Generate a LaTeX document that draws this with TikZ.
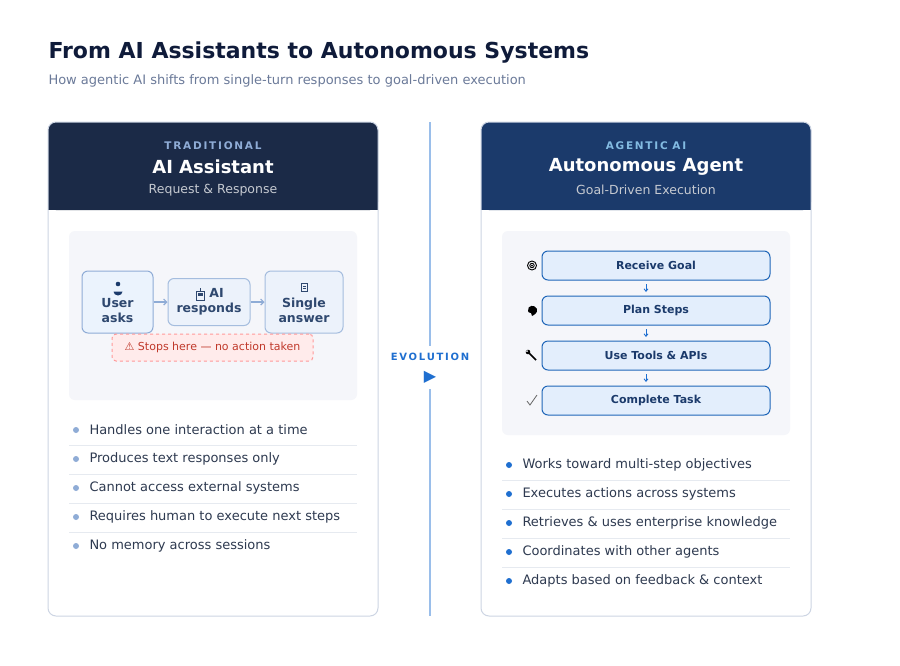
\documentclass[tikz,border=0pt]{standalone}
\usepackage{fontspec}
\setmainfont{DejaVu Sans}
\usetikzlibrary{arrows.meta,calc}
\definecolor{navy}{HTML}{0F1B3A}
\definecolor{sub}{HTML}{6B7A99}
\definecolor{cardline}{HTML}{CDD5E3}
\definecolor{hdrL}{HTML}{1B2A47}
\definecolor{hdrR}{HTML}{1B3A6B}
\definecolor{panel}{HTML}{F5F6FA}
\definecolor{txt}{HTML}{2E3A50}
\definecolor{boxb}{HTML}{1F66B8}
\definecolor{boxf}{HTML}{E3EEFC}
\definecolor{lb}{HTML}{8FACD6}
\definecolor{sep}{HTML}{E6EAF0}
\definecolor{redt}{HTML}{C0392B}
\definecolor{blue}{HTML}{1F6FD0}
\begin{document}
\begin{tikzpicture}[x=1pt,y=-1pt,line width=1pt,
  every node/.style={inner sep=0pt},
  stepbox/.style={draw=boxb,fill=boxf,rounded corners=6,minimum width=228,minimum height=29,font=\fontsize{11}{13}\selectfont\bfseries,text=hdrR},
  fb/.style={rounded corners=6,align=center,font=\fontsize{12.5}{15}\selectfont\bfseries,text=hdrR!80!gray},
  bl/.style={anchor=west,font=\fontsize{13}{15}\selectfont,text=txt},
  hd1/.style={font=\fontsize{10.5}{12}\selectfont\bfseries},
  hd2/.style={font=\fontsize{18}{21}\selectfont\bfseries,text=white},
  hd3/.style={font=\fontsize{12.5}{15}\selectfont,text=white!75!hdrL}]
\useasboundingbox (0,0) rectangle (900,665);
\fill[white] (0,0) rectangle (900,665);
\node[anchor=west,font=\fontsize{22}{26}\selectfont\bfseries,text=navy] (title) at (48,53) {From AI Assistants to Autonomous Systems};
\node[anchor=west,font=\fontsize{13}{15}\selectfont,text=sub] (subt) at (48,81) {How agentic AI shifts from single-turn responses to goal-driven execution};
% left card
\fill[hdrL,rounded corners=8] (48,122) rectangle (378,210);
\fill[hdrL] (48,180) rectangle (378,210);
\draw[cardline,rounded corners=8] (48,122) rectangle (378,616);
\node[hd1,text=lb] (lt) at (213,146) {T\,R\,A\,D\,I\,T\,I\,O\,N\,A\,L};
\node[hd2] (lh) at (213,167) {AI Assistant};
\node[hd3] (ls) at (213,190) {Request \& Response};
\fill[panel,rounded corners=6] (69,231) rectangle (357,400);
\node[fb,draw=lb,fill=boxf!70!white,minimum width=71,minimum height=62] (u) at (117.5,302) {\strut\\User\\asks};
\node[fb,draw=lb!80!white,fill=panel!50!boxf,minimum width=82,minimum height=47] (ai) at (209,302) {\hspace{15pt}AI\\responds};
\node[fb,draw=lb!80!white,fill=panel!50!boxf,minimum width=78,minimum height=62] (sa) at (304,302) {\strut\\Single\\answer};
% person icon
\fill[hdrR] (118,284) circle (2.3);
\fill[hdrR] (113.5,291.5) arc (180:0:4.5 and 4) -- cycle;
% robot icon
\draw[hdrR!80!gray,line width=0.8] (196,291) rectangle (204,300); \fill[hdrR!80!gray] (197.5,293) rectangle (202.5,296);
\draw[hdrR!80!gray,line width=0.8] (200,291) -- (200,288);
% doc icon
\draw[hdrR!80!gray,line width=0.8] (301.5,283) rectangle (307,291.5);
\draw[hdrR!80!gray,line width=0.5] (302.8,286) -- (305.7,286) (302.8,288) -- (305.7,288);
\draw[lb,line width=1.2,-{Straight Barb[length=3pt,width=6pt]}] (u) -- (ai);
\draw[lb,line width=1.2,-{Straight Barb[length=3pt,width=6pt]}] (ai) -- (sa);
\node[draw=red!40,dashed,fill=red!8,rounded corners=4,minimum width=201,minimum height=27,text=redt,font=\fontsize{11}{13}\selectfont] (stop) at (212.5,347.5) {⚠ Stops here — no action taken};
\foreach \t [count=\i] in {Handles one interaction at a time,Produces text responses only,Cannot access external systems,Requires human to execute next steps,No memory across sessions}{
  \node[circle,fill=lb,minimum size=6] (lb\i) at (76,{401+29*\i}) {};
  \node[bl] (lt\i) at (89,{401+29*\i}) {\t};
}
\foreach \y in {445,474,503,532} \draw[sep] (69,\y) -- (357,\y);
% divider
\draw[blue!45,line width=1.5] (430,122) -- (430,346);
\draw[blue!45,line width=1.5] (430,389) -- (430,616);
\node[font=\fontsize{10}{12}\selectfont\bfseries,text=blue] (ev) at (430,357) {E\,V\,O\,L\,U\,T\,I\,O\,N};
\node[font=\fontsize{16}{18}\selectfont,text=blue] (tri) at (430,377) {▶};
% right card
\fill[hdrR,rounded corners=8] (481,122) rectangle (811,210);
\fill[hdrR] (481,180) rectangle (811,210);
\draw[cardline,rounded corners=8] (481,122) rectangle (811,616);
\node[hd1,text=cyan!50!blue!55!white] (rt) at (646,146) {A\,G\,E\,N\,T\,I\,C\;\,A\,I};
\node[hd2] (rh) at (646,167) {Autonomous Agent};
\node[hd3] (rs) at (646,190) {Goal-Driven Execution};
\fill[panel,rounded corners=6] (502,231) rectangle (790,435);
\node[stepbox] (s1) at (656,265.5) {Receive Goal};
\node[stepbox] (s2) at (656,310.5) {Plan Steps};
\node[stepbox] (s3) at (656,355.5) {Use Tools \& APIs};
\node[stepbox] (s4) at (656,400.5) {Complete Task};
% icons
\draw[black,line width=0.9] (532,265.5) circle (4.5) (532,265.5) circle (2.2);
\fill[black] (532,265.5) circle (1);
\fill[black] (528,311) .. controls (527,305) and (535,304) .. (537,309) .. controls (538,313) and (534,315) .. (532,316) -- (531,313) .. controls (529,313) and (528,312) .. (528,311);
\draw[black,line width=1.6] (528,352) -- (536,360);
\fill[black] (528,352) circle (2.3); \fill[panel] (527,351) circle (1);
\draw[black!60,line width=0.8] (527,401) -- (530,405) -- (537,395);
\foreach \a/\b in {s1/s2,s2/s3,s3/s4}
  \draw[blue,line width=0.9,-{Straight Barb[length=2.5pt,width=4pt]}] ($(\a.south)!0.5!(\b.north)+(-10,-4)$) -- ++(0,8);
\foreach \t [count=\i] in {Works toward multi-step objectives,Executes actions across systems,Retrieves \& uses enterprise knowledge,Coordinates with other agents,Adapts based on feedback \& context}{
  \node[circle,fill=blue,minimum size=6] (rb\i) at (509,{436+29*\i}) {};
  \node[bl] (rtx\i) at (522,{436+29*\i}) {\t};
}
\foreach \y in {480,509,538,567} \draw[sep] (502,\y) -- (790,\y);
\end{tikzpicture}
\end{document}
